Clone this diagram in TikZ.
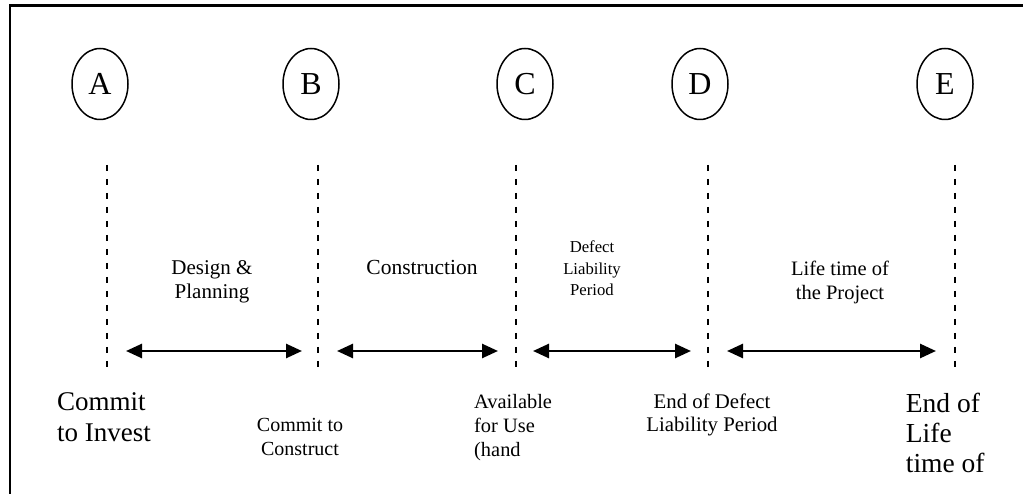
\documentclass[tikz,border=0pt]{standalone}
\usepackage{fontspec}
\setmainfont{Liberation Serif}
\usetikzlibrary{arrows.meta,shapes.geometric}
\begin{document}
\begin{tikzpicture}[x=1pt,y=-1pt,
  milestone/.style={draw,line width=1.5pt,ellipse,minimum width=56pt,minimum height=71pt,inner sep=0pt,
    font=\fontsize{32}{32}\selectfont},
  divider/.style={line width=2.5pt,dash pattern=on 6pt off 8pt},
  span/.style={line width=2.6pt,{Triangle[length=16pt,width=14pt]}-{Triangle[length=16pt,width=14pt]}},
  phase/.style={inner sep=0pt,align=center},
  event/.style={inner sep=0pt},
  frameline/.style={line width=2.5pt}]
\useasboundingbox (0,0) rectangle (1023,494);

% frame (top and left edges)
\coordinate (f0) at (1023,5.5);
\coordinate (f1) at (10,5.5);
\coordinate (f2) at (10,494);
\draw[frameline] (f0) -- (f1) -- (f2);

% milestones
\node[milestone] (A) at (100,84) {A};
\node[milestone] (B) at (311,84) {B};
\node[milestone] (C) at (525,84) {C};
\node[milestone] (D) at (700,84) {D};
\node[milestone] (E) at (945,84) {E};

% dashed dividers
\foreach \n/\x in {a/107,b/318,c/516,d/708,e/955}{
  \coordinate (\n top) at (\x,165);
  \coordinate (\n bot) at (\x,370);
  \draw[divider] (\n top) -- (\n bot);
}

% phase arrows
\coordinate (ab1) at (126,351); \coordinate (ab2) at (302,351);
\coordinate (bc1) at (337,351); \coordinate (bc2) at (498,351);
\coordinate (cd1) at (533,351); \coordinate (cd2) at (691,351);
\coordinate (de1) at (727,351); \coordinate (de2) at (936,351);
\draw[span] (ab1) -- (ab2);
\draw[span] (bc1) -- (bc2);
\draw[span] (cd1) -- (cd2);
\draw[span] (de1) -- (de2);

% phase labels
\node[phase,anchor=north,font=\fontsize{21}{24}\selectfont] (p1) at (212,260.7) {Design \&\\Planning};
\node[phase,anchor=north,font=\fontsize{21.5}{24}\selectfont] (p2) at (422,260.3) {Construction};
\node[phase,anchor=north,font=\fontsize{16.7}{21.5}\selectfont] (p3) at (592,240.6) {Defect\\Liability\\Period};
\node[phase,anchor=north,font=\fontsize{20.5}{24}\selectfont] (p4) at (840,261) {Life time of\\the Project};

% event labels
\node[event,anchor=north west,align=left,font=\fontsize{27}{31}\selectfont] (eA) at (57,392.6) {Commit\\to Invest};
\node[event,anchor=north,align=center,font=\fontsize{20}{24}\selectfont] (eB) at (300,418.3) {Commit to\\Construct};
\node[event,anchor=north west,align=left,font=\fontsize{20.4}{24}\selectfont] (eC) at (474,394.1) {Available\\for Use\\(hand};
\node[event,anchor=north,align=center,font=\fontsize{20.8}{23}\selectfont] (eD) at (712,393.8) {End of Defect\\Liability Period};
\node[event,anchor=north west,align=left,font=\fontsize{27.5}{30}\selectfont] (eE) at (905.7,393) {End of\\Life\\time of};
\end{tikzpicture}
\end{document}
